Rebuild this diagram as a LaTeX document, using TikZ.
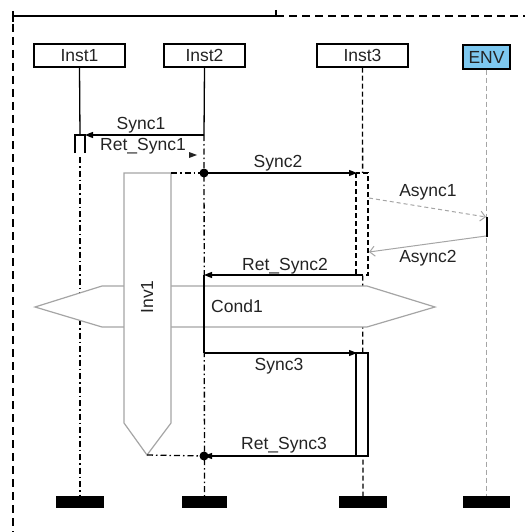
\documentclass[tikz,border=0pt]{standalone}
\usepackage{fontspec}
\setmainfont{Liberation Sans}
\usetikzlibrary{arrows.meta}

\definecolor{envblue}{RGB}{125,200,240}
\definecolor{greyline}{RGB}{165,165,165}
\definecolor{ink}{RGB}{35,35,35}

\tikzset{
  txt/.style={font=\fontsize{17.5}{19}\selectfont, text=ink},
  inst/.style={draw, line width=1.4pt, minimum height=23pt, inner sep=0pt, txt},
  lbl/.style={inner sep=0pt, txt},
  endbar/.style={fill=black, minimum height=12pt, inner sep=0pt},
  life/.style={line width=1.3pt},
  dashdot/.style={life, dash pattern=on 6pt off 3pt on 1.5pt off 3pt},
  dashline/.style={life, dash pattern=on 5pt off 3pt},
  msg/.style={line width=1.3pt, -{Triangle[length=8pt,width=6pt]}},
  amsg/.style={line width=1pt, draw=greyline, -{Straight Barb[length=5pt,width=10pt]}},
  frame/.style={line width=1.5pt, dash pattern=on 8pt off 5pt}
}

\begin{document}
\begin{tikzpicture}[x=1pt,y=-1pt]
\useasboundingbox (0,0) rectangle (525,532);

% frame
\draw[line width=1.5pt] (13,11) -- (13,22);
\draw[line width=1.5pt] (13,16) -- (276,16);
\draw[line width=1.5pt] (276,10) -- (276,16);
\draw[frame] (276,16) -- (525,16);
\draw[frame] (13,24) -- (13,532);

% instance heads and ends
\node[inst, minimum width=91pt] (inst1) at (79.5,55.5) {Inst1};
\node[inst, minimum width=81pt] (inst2) at (204.5,55.5) {Inst2};
\node[inst, minimum width=91pt] (inst3) at (362.5,55.5) {Inst3};
\node[inst, minimum width=47pt, minimum height=24pt, fill=envblue] (env) at (486.5,57) {ENV};
\node[endbar, minimum width=48pt] (end1) at (80,502) {};
\node[endbar, minimum width=45pt] (end2) at (204.5,502) {};
\node[endbar, minimum width=48pt] (end3) at (363,502) {};
\node[endbar, minimum width=47pt] (end4) at (486.5,502) {};

% points on the lifelines
\coordinate (s1a) at (204,135);
\coordinate (s1b) at (85,135);
\coordinate (i1top) at (80,135);
\coordinate (i1low) at (80,157);
\coordinate (s2a) at (204,173);
\coordinate (s2b) at (357,173);
\coordinate (r2a) at (362,275);
\coordinate (r2b) at (204,275);
\coordinate (s3a) at (204,353);
\coordinate (s3b) at (357,353);
\coordinate (r3a) at (357,456);
\coordinate (r3b) at (204,456);
\coordinate (a1a) at (369,198);
\coordinate (a1b) at (486,217);
\coordinate (a2a) at (486,236);
\coordinate (a2b) at (369,252);

% lifelines
\draw[life] (inst1.south) -- (i1top);
\draw[dashdot] (i1low) -- (end1.north);
\draw[life] (inst2.south) -- (s1a);
\draw[dashdot] (s1a) -- (end2.north);
\draw[dashline] (inst3.south) -- (end3.north);
\draw[greyline, line width=1pt, dash pattern=on 5pt off 3pt] (env.south) -- (end4.north);

% Sync1 and its return
\draw[life] (75,153) -- (75,135) -- (85,135) -- (85,153);
\draw[msg] (s1a) -- (s1b);
\fill[ink] (189,152) -- (197,155) -- (189,158) -- cycle;

% Sync2, the asynchronous calls, Ret_Sync2
\draw[dashline, fill=white] (356,173) rectangle (368,275);
\draw[msg] (s2a) -- (s2b);
\draw[amsg, dash pattern=on 4pt off 3pt] (a1a) -- (a1b);
\draw[line width=1.7pt] (487,217) -- (487,237);
\draw[amsg] (a2a) -- (a2b);
\draw[msg] (r2a) -- (r2b);

% Cond1
\draw[greyline, line width=1.2pt, fill=white]
  (35,307) -- (102,286) -- (367,286) -- (435,307) -- (367,327) -- (102,327) -- cycle;

% Inv1
\draw[greyline, line width=1.2pt, fill=white]
  (124,173) -- (171,173) -- (171,423) -- (147,455) -- (124,423) -- cycle;
\draw[dashdot] (171,173) -- (s2a);
\draw[dashdot] (147,455) -- (r3b);

% Inst2 active between Ret_Sync2 and Sync3
\draw[life] (r2b) -- (s3a);

% Sync3 and Ret_Sync3
\draw[life, fill=white] (356,353) rectangle (368,456);
\draw[msg] (s3a) -- (s3b);
\draw[msg] (r3a) -- (r3b);
\fill (s2a) circle (4.5);
\fill (r3b) circle (4.5);

% labels
\node[lbl] (l1) at (141,125) {Sync1};
\node[lbl] (l2) at (143,146) {Ret\_Sync1};
\node[lbl] (l3) at (278,163) {Sync2};
\node[lbl] (l4) at (428,192) {Async1};
\node[lbl] (l5) at (428,258) {Async2};
\node[lbl] (l6) at (285,266) {Ret\_Sync2};
\node[lbl] (l7) at (237,306) {Cond1};
\node[lbl, rotate=90] (l8) at (147,297) {Inv1};
\node[lbl] (l9) at (279,366) {Sync3};
\node[lbl] (l10) at (284,445) {Ret\_Sync3};
\end{tikzpicture}
\end{document}
